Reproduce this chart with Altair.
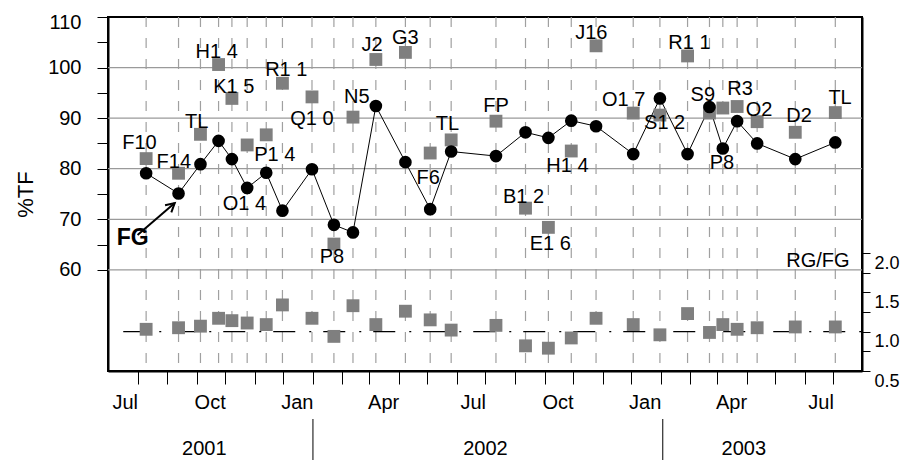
import altair as alt
import pandas as pd

# ---------------- data ----------------
sample_dates = ["2001-07-10", "2001-08-13", "2001-09-05", "2001-09-24", "2001-10-08",
                "2001-10-24", "2001-11-13", "2001-11-30", "2001-12-31", "2002-01-23",
                "2002-02-12", "2002-03-08", "2002-04-08", "2002-05-04", "2002-05-26",
                "2002-07-12", "2002-08-12", "2002-09-05", "2002-09-29", "2002-10-25",
                "2002-12-03", "2002-12-31", "2003-01-29", "2003-02-21", "2003-03-07",
                "2003-03-22", "2003-04-12", "2003-05-22", "2003-07-03"]
fg_values = [79.1, 75.1, 80.9, 85.5, 81.9, 76.2, 79.2, 71.7, 79.9, 68.9,
             67.4, 92.4, 81.3, 72.0, 83.4, 82.5, 87.2, 86.1, 89.5, 88.4,
             82.9, 93.9, 82.9, 92.2, 84.0, 89.4, 85.0, 81.9, 85.2]
rg_values = [82.0, 79.1, 86.8, 100.6, 93.9, 84.7, 86.7, 96.9, 94.2, 65.1,
             90.2, 101.6, 103.0, 83.1, 85.7, 89.4, 72.2, 68.4, 83.5, 104.3,
             91.0, 90.6, 102.3, 91.0, 92.0, 92.3, 89.3, 87.2, 91.1]
ratio_values = [1.03, 1.05, 1.07, 1.17, 1.14, 1.11, 1.09, 1.34, 1.17, 0.94,
                1.33, 1.09, 1.26, 1.15, 1.02, 1.08, 0.82, 0.79, 0.92, 1.17,
                1.09, 0.96, 1.23, 0.99, 1.09, 1.03, 1.05, 1.06, 1.06]
site_labels = ["F10", "F14", "TL", "H1 4", "K1 5", "O1 4", "P1 4", "R1 1", "Q1 0", "P8",
               "N5", "J2", "G3", "F6", "TL", "FP", "B1 2", "E1 6", "H1 4", "J16",
               "O1 7", "S1 2", "R1 1", "S9", "P8", "R3", "O2", "D2", "TL"]
label_dates = ["2001-07-03", "2001-08-08", "2001-09-01", "2001-09-22", "2001-10-10",
               "2001-10-21", "2001-11-22", "2001-12-04", "2001-12-31", "2002-01-21",
               "2002-02-16", "2002-03-04", "2002-04-08", "2002-05-02", "2002-05-22",
               "2002-07-12", "2002-08-10", "2002-09-07", "2002-09-25", "2002-10-20",
               "2002-11-23", "2003-01-05", "2003-01-31", "2003-02-14", "2003-03-06",
               "2003-03-25", "2003-04-14", "2003-05-26", "2003-07-08"]
label_values = [85.0, 81.4, 89.3, 103.1, 96.2, 73.0, 82.7, 99.5, 89.8, 62.5,
                94.2, 104.5, 105.8, 78.1, 88.8, 92.4, 74.35, 65.1, 80.5, 106.8,
                93.6, 89.1, 104.9, 94.6, 81.2, 95.7, 91.6, 90.4, 94.0]
grid_values = [60, 70, 80, 90, 100]
left_ticks = [60, 65, 70, 75, 80, 85, 90, 95, 100, 105, 110]
right_ticks = [0.5, 0.75, 1.0, 1.25, 1.5, 1.75, 2.0]
years = ["2001", "2002", "2003"]
year_label_dates = ["2001-09-09", "2002-07-01", "2003-03-29"]
year_break_dates = ["2002-01-01", "2003-01-03"]
arrow_from = ("2001-07-01", 66.9)
arrow_to = ("2001-08-09", 73.2)
fg_note = ("FG", "2001-06-26", 66.3)
ratio_note = ("RG/FG", "2003-07-18", 1.896)
ratio_ref = (1.0, "2001-06-16", "2003-07-31")

FONT = "Liberation Sans"
W, H = 754, 354

# ---------------- tables ----------------
samples = pd.DataFrame({
    "date": pd.to_datetime(sample_dates), "fg": fg_values, "rg": rg_values,
    "ratio": ratio_values,
})
labels = pd.DataFrame({"date": pd.to_datetime(label_dates), "v": label_values, "t": site_labels})
grid = pd.DataFrame({"v": grid_values})
yr = pd.DataFrame({"date": pd.to_datetime(year_label_dates), "t": years})
yb = pd.DataFrame({"date": pd.to_datetime(year_break_dates)})
arrow = pd.DataFrame({"d1": [pd.to_datetime(arrow_from[0])], "v1": [arrow_from[1]],
                      "d2": [pd.to_datetime(arrow_to[0])], "v2": [arrow_to[1]]})
fgn = pd.DataFrame({"date": [pd.to_datetime(fg_note[1])], "v": [fg_note[2]], "t": [fg_note[0]]})
rn = pd.DataFrame({"date": [pd.to_datetime(ratio_note[1])], "v": [ratio_note[2]], "t": [ratio_note[0]]})
rref = pd.DataFrame({"v": [ratio_ref[0]], "d1": [pd.to_datetime(ratio_ref[1])],
                     "d2": [pd.to_datetime(ratio_ref[2])]})

month_ticks = []
for y in (2001, 2002, 2003):
    for m in range(1, 13):
        if (y == 2001 and m < 7) or (y == 2003 and m > 7):
            continue
        month_ticks.append(alt.DateTime(year=y, month=m, date=1))

x_scale = alt.Scale(domain=[alt.DateTime(year=2001, month=5, date=31),
                            alt.DateTime(year=2003, month=7, date=31)], nice=False)
x_axis = alt.Axis(values=month_ticks, title=None, grid=False,
                  labelExpr="month(datum.value) % 3 == 0 ? timeFormat(datum.value, '%b') : ''",
                  labelAlign="right", labelFlush=False, labelOverlap=False,
                  tickSize=13, labelPadding=8, labelFontSize=20, labelFont=FONT,
                  labelColor="black", tickColor="black", domainColor="black", domainWidth=2)


def xT(field):
    return alt.X(field, type="temporal", scale=x_scale, axis=x_axis)


yl_scale = alt.Scale(domain=[40, 110], nice=False, zero=False)
yl_axis = alt.Axis(values=left_ticks, labelExpr="datum.value % 10 == 0 ? datum.value : ''",
                   title="%TF", titleFontSize=22, titleFont=FONT, titleFontWeight="normal",
                   titleColor="black", titlePadding=10, grid=False, tickSize=11,
                   labelPadding=16, labelFontSize=20, labelFont=FONT, labelColor="black",
                   labelFlush=True, labelFlushOffset=5,
                   tickColor="black", domainColor="black", domainWidth=2)


def yL(field):
    return alt.Y(field, type="quantitative", scale=yl_scale, axis=yl_axis)


yr_scale = alt.Scale(domain=[0.5, 5.0], nice=False, zero=False)
yr_axis = alt.Axis(orient="right", values=right_ticks,
                   labelExpr="(datum.value * 2) % 1 == 0 ? format(datum.value, '.1f') : ''",
                   title=None, grid=False, tickSize=8, labelPadding=4, labelOffset=10,
                   labelFontSize=18, labelFont=FONT, labelColor="black", labelFlush=False,
                   tickColor="black", domainColor="black", domainWidth=2)


def yR(field):
    return alt.Y(field, type="quantitative", scale=yr_scale, axis=yr_axis)


GREY = "#7f7f7f"

vrules = alt.Chart(samples).mark_rule(color="#a0a0a0", strokeWidth=1.2,
                                      strokeDash=[10, 11]).encode(x=xT("date"))
hgrid = alt.Chart(grid).mark_rule(color="#9a9a9a", strokeWidth=1.3).encode(y=yL("v"))
fg_line = alt.Chart(samples).mark_line(color="black", strokeWidth=1).encode(x=xT("date"), y=yL("fg"))
rg_pts = alt.Chart(samples).mark_point(shape="square", filled=True, size=165, color=GREY,
                                       opacity=1).encode(x=xT("date"), y=yL("rg"))
fg_pts = alt.Chart(samples).mark_point(shape="circle", filled=True, size=160, color="black",
                                       opacity=1).encode(x=xT("date"), y=yL("fg"))
lab = alt.Chart(labels).mark_text(fontSize=20, font=FONT, color="black",
                                  baseline="middle").encode(x=xT("date"), y=yL("v"), text="t:N")
arr = alt.Chart(arrow).mark_rule(color="black", strokeWidth=2).encode(
    x=xT("d1"), x2="d2:T", y=yL("v1"), y2="v2:Q")
arr_head = alt.Chart(arrow).mark_point(shape="M-0.55,1L0,0L0.55,1", filled=False, size=300,
                                       color="black", strokeWidth=2, opacity=1,
                                       angle=49).encode(x=xT("d2"), y=yL("v2"))
fg_txt = alt.Chart(fgn).mark_text(fontSize=23, font=FONT, fontWeight="bold", color="black",
                                  baseline="middle").encode(x=xT("date"), y=yL("v"), text="t:N")
year_txt = alt.Chart(yr).mark_text(fontSize=20, font=FONT, color="black",
                                   baseline="middle").encode(x=xT("date"), y=alt.value(432),
                                                             text="t:N")
year_sep = alt.Chart(yb).mark_rule(color="black", strokeWidth=1).encode(
    x=xT("date"), y=alt.value(402), y2=alt.value(443))

ratio_pts = alt.Chart(samples).mark_point(shape="square", filled=True, size=165, color=GREY,
                                          opacity=1).encode(x=xT("date"), y=yR("ratio"))
ratio_line = alt.Chart(rref).mark_rule(color="black", strokeWidth=1.2,
                                       strokeDash=[22, 14, 2, 12]).encode(
    x=xT("d1"), x2="d2:T", y=yR("v"))
ratio_txt = alt.Chart(rn).mark_text(fontSize=20, font=FONT, color="black", align="right",
                                    baseline="middle").encode(x=xT("date"), y=yR("v"), text="t:N")

left = alt.layer(vrules, hgrid, fg_line, rg_pts, fg_pts, lab, arr, arr_head, fg_txt,
                 year_txt, year_sep)
right = alt.layer(ratio_line, ratio_pts, ratio_txt)

chart = alt.layer(left, right).resolve_scale(y="independent").properties(
    width=W, height=H,
    autosize=alt.AutoSizeParams(type="none"),
    padding={"left": 100, "top": 9, "right": 39, "bottom": 89},
    background="white",
).configure_view(stroke="black", strokeWidth=2)

chart.save("out.html", embed_options={"renderer": "svg", "actions": False})
